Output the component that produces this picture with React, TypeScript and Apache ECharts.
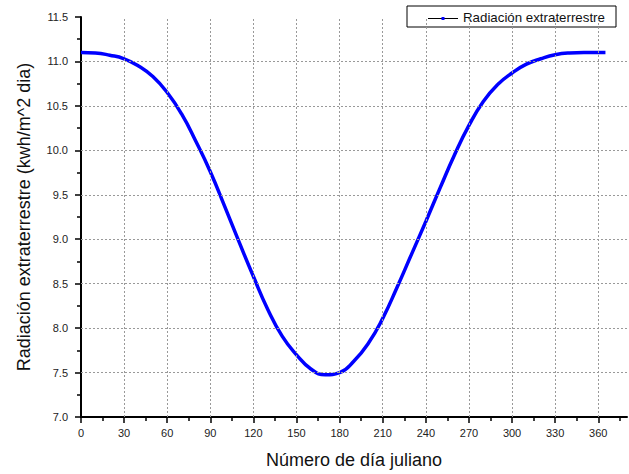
import React, { useEffect, useRef } from "react";
import * as echarts from "echarts";

const days = [0, 10, 20, 30, 40, 50, 60, 70, 80, 90, 100, 110, 120, 130, 140, 150, 160, 170, 180, 190, 200, 210, 220, 230, 240, 250, 260, 270, 280, 290, 300, 310, 320, 330, 340, 350, 360, 365];
const radiation = [11.1, 11.095, 11.07, 11.03, 10.95, 10.83, 10.65, 10.41, 10.1, 9.76, 9.37, 8.97, 8.58, 8.21, 7.91, 7.7, 7.54, 7.475, 7.5, 7.63, 7.83, 8.11, 8.46, 8.83, 9.2, 9.58, 9.95, 10.28, 10.55, 10.74, 10.87, 10.97, 11.03, 11.075, 11.095, 11.1, 11.1, 11.1];
const xMajorTicks = [0, 30, 60, 90, 120, 150, 180, 210, 240, 270, 300, 330, 360];
const xMinorTicks = [15, 45, 75, 105, 135, 165, 195, 225, 255, 285, 315, 345, 375];
const yGridValues = [7.5, 8.0, 8.5, 9.0, 9.5, 10.0, 10.5, 11.0];
const seriesName = "Radiación extraterrestre";
const xTitle = "Número de día juliano";
const yTitle = "Radiación extraterrestre (kwh/m^2 dia)";

const FONT = "'Liberation Sans', Arial, sans-serif";

export default function App() {
  const ref = useRef<HTMLDivElement>(null);
  useEffect(() => {
    if (!ref.current) return;
    const chart = echarts.init(ref.current, null, { renderer: "svg" });
    chart.setOption({
      animation: false,
      backgroundColor: "#fff",
      grid: { left: 81, right: 2, top: 17, bottom: 55, containLabel: false },
      xAxis: [
        {
          type: "value",
          min: 0,
          max: 380,
          interval: 30,
          position: "bottom",
          name: xTitle,
          nameLocation: "middle",
          nameGap: 34,
          nameTextStyle: { fontFamily: FONT, fontSize: 18, color: "#111" },
          axisLine: { show: true, onZero: false, lineStyle: { color: "#000", width: 2 } },
          axisTick: { show: true, customValues: xMajorTicks, length: 6, lineStyle: { color: "#000", width: 1.5 } },
          axisLabel: { customValues: xMajorTicks, margin: 10, fontFamily: FONT, fontSize: 11, color: "#222" },
          splitLine: { show: false },
        },
        {
          type: "value",
          min: 0,
          max: 380,
          position: "bottom",
          axisLine: { show: false },
          axisTick: { show: true, customValues: xMinorTicks, length: 4, lineStyle: { color: "#000", width: 1.5 } },
          axisLabel: { show: false },
          splitLine: { show: false },
        },
      ],
      yAxis: {
        type: "value",
        min: 7,
        max: 11.5,
        interval: 0.5,
        name: yTitle,
        nameLocation: "middle",
        nameGap: 48,
        nameRotate: 90,
        nameTextStyle: { fontFamily: FONT, fontSize: 18, color: "#111" },
        axisLine: { show: true, onZero: false, lineStyle: { color: "#000", width: 2 } },
        axisTick: { show: true, length: 6, lineStyle: { color: "#000", width: 1.5 } },
        minorTick: { show: true, splitNumber: 2, length: 4, lineStyle: { color: "#000", width: 1.5 } },
        axisLabel: { margin: 13, fontFamily: FONT, fontSize: 11, color: "#222", formatter: (v: number) => v.toFixed(1) },
        splitLine: { show: false },
        minorSplitLine: { show: false },
      },
      series: [
        {
          name: seriesName,
          type: "line",
          xAxisIndex: 0,
          data: days.map((d, i) => [d, radiation[i]]),
          smooth: 0.5,
          showSymbol: false,
          lineStyle: { color: "#0000ff", width: 3.5 },
          itemStyle: { color: "#0000ff" },
          z: 3,
          markLine: {
            silent: true,
            symbol: ["none", "none"],
            label: { show: false },
            emphasis: { disabled: true },
            lineStyle: { color: "#999", type: [2, 2], width: 1 },
            data: [
              ...xMajorTicks.slice(1).map((v) => ({ xAxis: v })),
              ...yGridValues.map((v) => ({ yAxis: v })),
            ],
          },
        },
      ],
      graphic: [
        {
          type: "group",
          z: 100,
          children: [
            { type: "rect", shape: { x: 407, y: 6, width: 209, height: 21 }, style: { fill: "#fff", stroke: "#000", lineWidth: 1 } },
            { type: "line", shape: { x1: 428, y1: 18.5, x2: 458, y2: 18.5 }, style: { stroke: "#000", lineWidth: 1 } },
            { type: "rect", shape: { x: 441.5, y: 17, width: 3, height: 3 }, style: { fill: "#0000ff" } },
            { type: "text", x: 463, y: 17, style: { text: seriesName, font: `13.3px ${FONT}`, fill: "#111", verticalAlign: "middle" } },
          ],
        },
      ],
    });
    return () => chart.dispose();
  }, []);
  return <div ref={ref} style={{ position: "fixed", left: 0, top: 0, width: 629, height: 474 }} />;
}
